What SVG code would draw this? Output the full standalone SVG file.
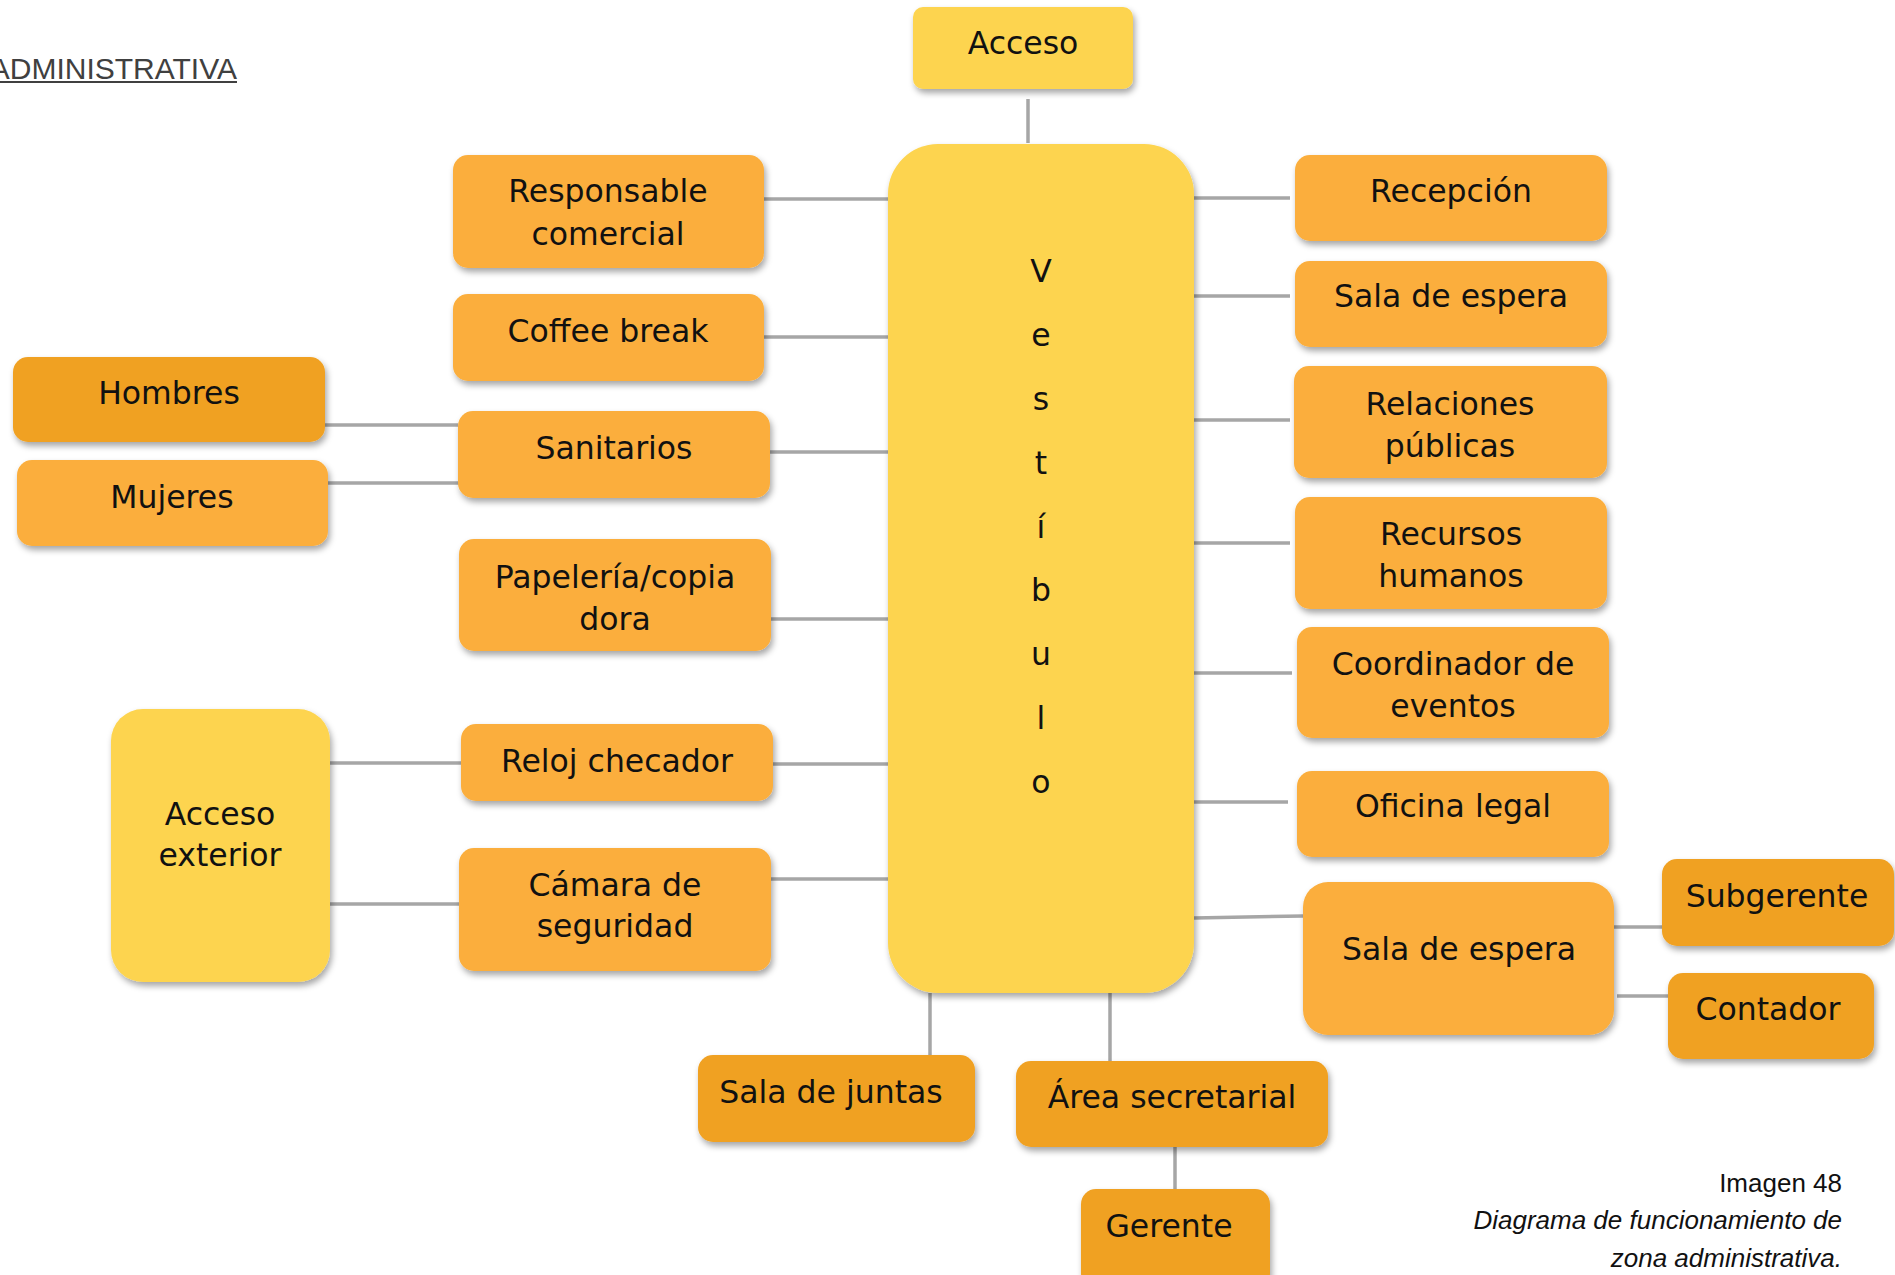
<svg xmlns="http://www.w3.org/2000/svg" width="1895" height="1275" viewBox="0 0 1895 1275">
<style>
.n text{font-family:"DejaVu Sans","Liberation Sans",sans-serif;font-size:31.5px;fill:#111;text-anchor:middle}
.lo{fill:#FBAE3C}
.dk{fill:#F0A123}
.ye{fill:#FDD44F}
.box{filter:url(#sh)}
#connectors line{stroke:#A6A6A6;stroke-width:3.5;fill:none}
.cap{font-family:"Liberation Sans",Arial,sans-serif;font-size:26px;fill:#111;text-anchor:end}
</style>
<defs>
<filter id="sh" x="-10%" y="-10%" width="125%" height="130%">
<feDropShadow dx="2" dy="4" stdDeviation="3" flood-color="#000" flood-opacity="0.35"/>
</filter>
</defs>
<rect width="1895" height="1275" fill="#fff"/>

<g id="title">
<text x="237" y="79" font-family="Liberation Sans,Arial,sans-serif" font-size="30" fill="#404040" text-anchor="end">ADMINISTRATIVA</text>
<line x1="0" y1="82" x2="237" y2="82" stroke="#404040" stroke-width="2"/>
</g>

<g id="connectors">
<line x1="1028" y1="99" x2="1028" y2="143"/>
<line x1="764" y1="199" x2="888" y2="199"/>
<line x1="764" y1="337" x2="888" y2="337"/>
<line x1="770" y1="452" x2="888" y2="452"/>
<line x1="325" y1="425" x2="458" y2="425"/>
<line x1="328" y1="483" x2="459" y2="483"/>
<line x1="771" y1="619" x2="888" y2="619"/>
<line x1="330" y1="763" x2="461" y2="763"/>
<line x1="773" y1="764" x2="888" y2="764"/>
<line x1="330" y1="904" x2="459" y2="904"/>
<line x1="771" y1="879" x2="888" y2="879"/>
<line x1="930" y1="993" x2="930" y2="1055"/>
<line x1="1110" y1="993" x2="1110" y2="1061"/>
<line x1="1175" y1="1147" x2="1175" y2="1189"/>
<line x1="1194" y1="198" x2="1290" y2="198"/>
<line x1="1194" y1="296" x2="1290" y2="296"/>
<line x1="1194" y1="420" x2="1290" y2="420"/>
<line x1="1194" y1="543" x2="1290" y2="543"/>
<line x1="1194" y1="673" x2="1292" y2="673"/>
<line x1="1194" y1="802" x2="1288" y2="802"/>
<line x1="1194" y1="918" x2="1303" y2="916"/>
<line x1="1614" y1="927" x2="1662" y2="927"/>
<line x1="1617" y1="996" x2="1668" y2="996"/>
</g>

<g id="acceso" class="n"><rect class="box ye" x="913" y="7" width="220" height="82" rx="10"/><text x="1023" y="54">Acceso</text></g>

<g id="vestibulo" class="n"><rect class="box ye" x="888" y="144" width="306" height="849" rx="50"/>
<text x="1041" y="282">V</text><text x="1041" y="346">e</text><text x="1041" y="410">s</text><text x="1041" y="474">t</text><text x="1041" y="538">í</text><text x="1041" y="601">b</text><text x="1041" y="665">u</text><text x="1041" y="729">l</text><text x="1041" y="793">o</text>
</g>

<g id="responsable" class="n"><rect class="box lo" x="453" y="155" width="311" height="113" rx="15"/><text x="608" y="202">Responsable</text><text x="608" y="245">comercial</text></g>
<g id="coffee" class="n"><rect class="box lo" x="453" y="294" width="311" height="87" rx="15"/><text x="608" y="342">Coffee break</text></g>
<g id="sanitarios" class="n"><rect class="box lo" x="458" y="411" width="312" height="87" rx="15"/><text x="614" y="459">Sanitarios</text></g>
<g id="hombres" class="n"><rect class="box dk" x="13" y="357" width="312" height="85" rx="15"/><text x="169" y="404">Hombres</text></g>
<g id="mujeres" class="n"><rect class="box lo" x="17" y="460" width="311" height="86" rx="15"/><text x="172" y="508">Mujeres</text></g>
<g id="papeleria" class="n"><rect class="box lo" x="459" y="539" width="312" height="112" rx="15"/><text x="615" y="588">Papelería/copia</text><text x="615" y="630">dora</text></g>
<g id="acceso-exterior" class="n"><rect class="box ye" x="111" y="709" width="219" height="273" rx="32"/><text x="220" y="825">Acceso</text><text x="220" y="866">exterior</text></g>
<g id="reloj" class="n"><rect class="box lo" x="461" y="724" width="312" height="77" rx="15"/><text x="617" y="772">Reloj checador</text></g>
<g id="camara" class="n"><rect class="box lo" x="459" y="848" width="312" height="123" rx="15"/><text x="615" y="896">Cámara de</text><text x="615" y="937">seguridad</text></g>

<g id="sala-juntas" class="n"><rect class="box dk" x="698" y="1055" width="277" height="87" rx="15"/><text x="831" y="1103">Sala de juntas</text></g>
<g id="area-secretarial" class="n"><rect class="box dk" x="1016" y="1061" width="312" height="86" rx="15"/><text x="1172" y="1108">Área secretarial</text></g>
<g id="gerente" class="n"><rect class="box dk" x="1081" y="1189" width="189" height="100" rx="15"/><text x="1169" y="1237">Gerente</text></g>

<g id="recepcion" class="n"><rect class="box lo" x="1295" y="155" width="312" height="86" rx="15"/><text x="1451" y="202">Recepción</text></g>
<g id="sala-espera-1" class="n"><rect class="box lo" x="1295" y="261" width="312" height="86" rx="15"/><text x="1451" y="307">Sala de espera</text></g>
<g id="relaciones" class="n"><rect class="box lo" x="1294" y="366" width="313" height="112" rx="15"/><text x="1450" y="415">Relaciones</text><text x="1450" y="457">públicas</text></g>
<g id="recursos" class="n"><rect class="box lo" x="1295" y="497" width="312" height="112" rx="15"/><text x="1451" y="545">Recursos</text><text x="1451" y="587">humanos</text></g>
<g id="coordinador" class="n"><rect class="box lo" x="1297" y="627" width="312" height="111" rx="15"/><text x="1453" y="675">Coordinador de</text><text x="1453" y="717">eventos</text></g>
<g id="oficina" class="n"><rect class="box lo" x="1297" y="771" width="312" height="86" rx="15"/><text x="1453" y="817">Oficina legal</text></g>
<g id="sala-espera-2" class="n"><rect class="box lo" x="1303" y="882" width="311" height="153" rx="25"/><text x="1459" y="960">Sala de espera</text></g>
<g id="subgerente" class="n"><rect class="box dk" x="1662" y="859" width="232" height="87" rx="15"/><text x="1777" y="907">Subgerente</text></g>
<g id="contador" class="n"><rect class="box dk" x="1668" y="973" width="206" height="86" rx="15"/><text x="1768" y="1020">Contador</text></g>

<g id="caption">
<text class="cap" x="1842" y="1192">Imagen 48</text>
<text class="cap" x="1842" y="1229" font-style="italic">Diagrama de funcionamiento de</text>
<text class="cap" x="1842" y="1267" font-style="italic">zona administrativa.</text>
</g>
</svg>
